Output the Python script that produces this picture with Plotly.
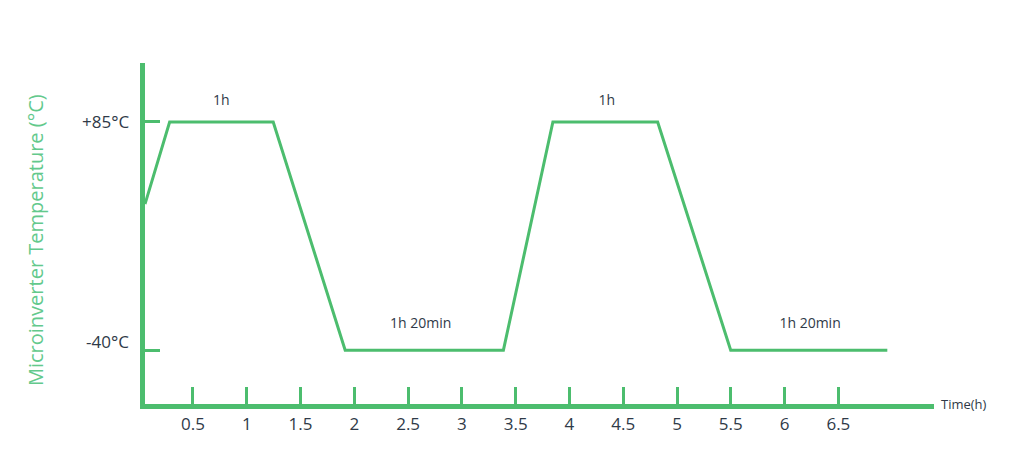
import plotly.graph_objects as go

# Data
time_h = [0.054, 0.283, 1.246, 1.915, 3.386, 3.846, 4.82, 5.499, 6.955]
temp_c = [40, 85, 85, -40, -40, 85, 85, -40, -40]

x_tick_vals = [0.5, 1, 1.5, 2, 2.5, 3, 3.5, 4, 4.5, 5, 5.5, 6, 6.5]
x_tick_text = ["0.5", "1", "1.5", "2", "2.5", "3", "3.5", "4", "4.5", "5", "5.5", "6", "6.5"]
y_tick_vals = [85, -40]
y_tick_text = ["+85°C", "-40°C"]

label_x = [0.763, 2.617, 4.347, 6.237]
label_y = [96.3, -26, 96.3, -26]
label_text = ["1h", "1h 20min", "1h", "1h 20min"]

GREEN = "#4cbd6e"
TEXT = "#2f3a48"
FONT = "Open Sans"

fig = go.Figure()
fig.add_trace(go.Scatter(x=time_h, y=temp_c, mode="lines",
                         line=dict(color=GREEN, width=3), hoverinfo="skip",
                         showlegend=False, cliponaxis=False))
fig.add_trace(go.Scatter(x=label_x, y=label_y, mode="text", text=label_text,
                         textfont=dict(family=FONT, size=14, color=TEXT),
                         showlegend=False, hoverinfo="skip", cliponaxis=False))

fig.update_layout(
    width=1024, height=469,
    margin=dict(l=137, r=98, t=55, b=73),
    paper_bgcolor="white", plot_bgcolor="white",
    font=dict(family=FONT, color=TEXT),
    xaxis=dict(range=[0.054, 7.389], showgrid=False, zeroline=False,
               showline=True, linecolor=GREEN, linewidth=5,
               tickmode="array", tickvals=x_tick_vals, ticktext=x_tick_text,
               ticks="inside", ticklen=17, tickwidth=2.5, tickcolor=GREEN,
               tickfont=dict(family=FONT, size=17, color=TEXT),
               ticklabelstandoff=1),
    yaxis=dict(range=[-69.5, 117.3], showgrid=False, zeroline=False,
               showline=True, linecolor=GREEN, linewidth=5,
               tickmode="array", tickvals=y_tick_vals, ticktext=["", ""],
               ticks="inside", ticklen=15, tickwidth=2.5, tickcolor=GREEN),
)

# y tick labels (the -40°C label sits slightly above its tick in the original)
y_label_shift = [0, 9]
for v, t, s in zip(y_tick_vals, y_tick_text, y_label_shift):
    fig.add_annotation(text=t, xref="paper", yref="y", x=0, y=v,
                       xanchor="right", yanchor="middle", xshift=-14, yshift=s,
                       showarrow=False, font=dict(family=FONT, size=17, color=TEXT))

fig.add_annotation(text="Microinverter Temperature (°C)", xref="paper", yref="paper",
                   x=-0.1394, y=0.5, yshift=-6.5, textangle=-90, showarrow=False,
                   xanchor="center", yanchor="middle",
                   font=dict(family=FONT, size=20, color="#63c98c"))
fig.add_annotation(text="Time(h)", xref="paper", yref="paper",
                   x=1.0, y=0.0, xanchor="left", yanchor="middle", xshift=5,
                   showarrow=False, font=dict(family=FONT, size=13, color=TEXT))

fig.write_html("out.html")
